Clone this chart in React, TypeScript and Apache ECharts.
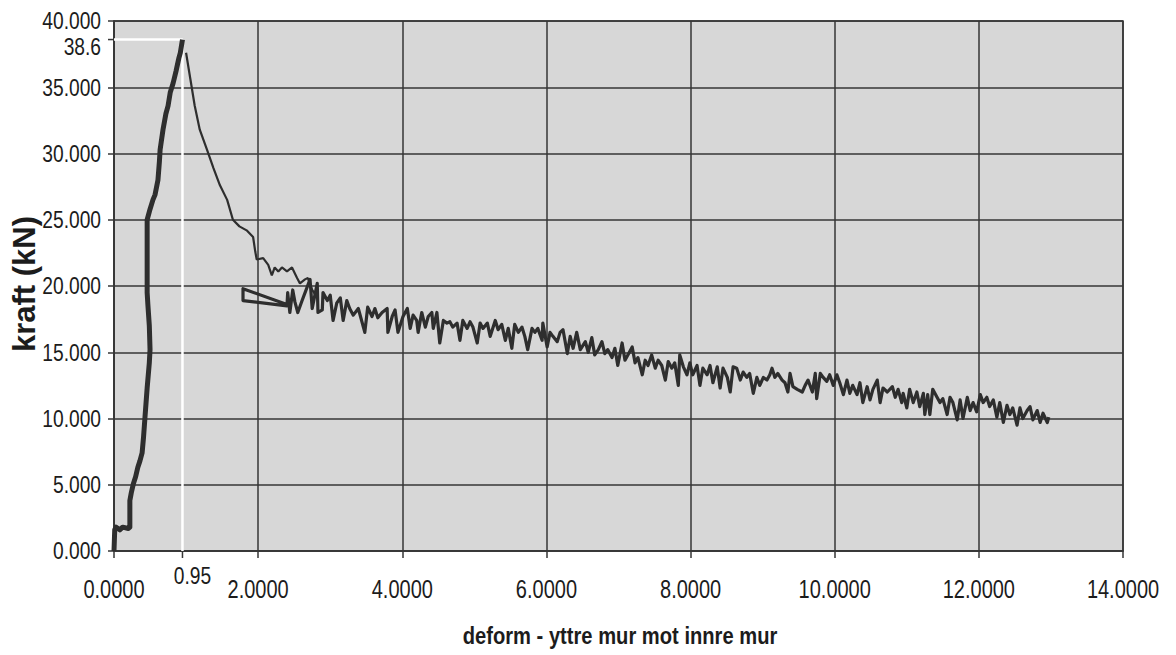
import { useEffect, useRef } from "react";
import * as echarts from "echarts";

// Peak of the test: deformation (mm) and force (kN)
const peakDeform = 0.95;
const peakForce = 38.6;

// Axis ticks
const xTicks = [0, 2, 4, 6, 8, 10, 12, 14];
const yTicks = [0, 5, 10, 15, 20, 25, 30, 35, 40];

// Loading branch up to the peak
const loading: [number, number][] = [
  [0.0, 0.0], [0.01, 1.6], [0.03, 1.8], [0.08, 1.6], [0.12, 1.8], [0.2, 1.7],
  [0.22, 1.8], [0.22, 3.8], [0.24, 4.4], [0.27, 5.1], [0.3, 5.6], [0.33, 6.3],
  [0.36, 6.8], [0.39, 7.4], [0.41, 8.6], [0.43, 10.1], [0.46, 12.3], [0.49, 14.2],
  [0.5, 15.2], [0.49, 17.0], [0.47, 18.6], [0.46, 19.5], [0.46, 21.5], [0.46, 23.5],
  [0.46, 25.0], [0.5, 25.8], [0.54, 26.5], [0.57, 26.9], [0.61, 28.0], [0.63, 29.4],
  [0.64, 30.3], [0.68, 31.8], [0.72, 33.0], [0.75, 33.6], [0.78, 34.6], [0.82, 35.3],
  [0.86, 36.2], [0.9, 37.2], [0.92, 37.6], [0.95, 38.6],
];

// Softening branch after the peak
const softening: [number, number][] = [
  [1.0, 37.6], [1.06, 35.6], [1.12, 33.6], [1.19, 31.8], [1.29, 30.3], [1.38, 28.9],
  [1.47, 27.6], [1.57, 26.5], [1.65, 25.0], [1.74, 24.5], [1.84, 24.2], [1.93, 23.7],
  [1.96, 22.6], [1.98, 22.0], [2.07, 22.1], [2.14, 21.6], [2.19, 20.8], [2.23, 21.4],
  [2.28, 21.1], [2.33, 21.4], [2.4, 21.1], [2.47, 21.4], [2.54, 20.6], [2.58, 20.2],
  [2.65, 20.5], [2.69, 20.6], [2.75, 19.7], [2.8, 19.3],
];

// Residual capacity, noisy plateau decreasing towards the end of the test
const residual: [number, number][] = [
  [2.4, 18.6], [1.79, 19.8], [1.79, 18.9], [2.4, 18.5],
  [2.41, 19.5], [2.44, 18.0], [2.48, 19.7], [2.51, 18.8], [2.55, 18.0], [2.61, 18.9],
  [2.72, 20.5], [2.75, 18.3], [2.82, 20.2], [2.83, 18.0], [2.89, 18.2], [2.9, 19.5],
  [2.96, 18.9], [3.0, 19.3], [3.04, 17.4], [3.09, 18.7], [3.14, 19.1], [3.18, 17.4],
  [3.23, 18.9], [3.27, 18.3], [3.32, 17.8], [3.39, 18.3], [3.48, 16.5], [3.52, 18.4],
  [3.58, 17.7], [3.62, 18.3], [3.66, 17.6], [3.72, 18.0], [3.79, 18.3], [3.8, 16.5],
  [3.86, 17.7], [3.9, 18.2], [3.94, 16.5], [4.01, 17.7], [4.07, 18.3], [4.11, 16.8],
  [4.15, 17.8], [4.2, 17.4], [4.22, 16.5], [4.27, 18.0], [4.32, 16.9], [4.36, 17.7],
  [4.41, 18.0], [4.43, 16.8], [4.48, 18.0], [4.52, 15.7], [4.57, 17.4], [4.62, 17.2],
  [4.66, 17.3], [4.7, 16.9], [4.76, 17.2], [4.8, 15.9], [4.84, 17.4], [4.9, 16.8],
  [4.94, 17.3], [4.98, 16.9], [5.04, 15.7], [5.08, 17.2], [5.12, 16.8], [5.18, 17.2],
  [5.22, 16.2], [5.29, 17.4], [5.33, 16.7], [5.38, 17.1], [5.43, 15.9], [5.47, 16.8],
  [5.52, 15.3], [5.56, 17.1], [5.61, 16.5], [5.66, 16.9], [5.7, 16.2], [5.74, 15.2],
  [5.8, 16.8], [5.84, 16.5], [5.88, 16.8], [5.94, 15.9], [5.95, 17.2], [6.01, 15.4],
  [6.05, 16.5], [6.09, 16.2], [6.15, 15.8], [6.19, 16.5], [6.23, 16.7], [6.29, 14.9],
  [6.33, 16.2], [6.37, 15.3], [6.42, 16.5], [6.47, 15.2], [6.54, 15.8], [6.58, 15.0],
  [6.63, 16.1], [6.67, 14.8], [6.72, 15.2], [6.77, 15.8], [6.81, 14.9], [6.85, 15.2],
  [6.91, 14.6], [6.95, 15.3], [6.99, 14.0], [7.05, 15.7], [7.09, 14.4], [7.13, 14.8],
  [7.19, 15.4], [7.23, 14.2], [7.27, 14.6], [7.33, 13.3], [7.37, 14.4], [7.41, 14.0],
  [7.46, 14.8], [7.51, 13.8], [7.55, 14.4], [7.6, 14.0], [7.65, 12.9], [7.69, 14.3],
  [7.74, 13.8], [7.78, 14.2], [7.83, 12.5], [7.85, 14.8], [7.9, 13.9], [7.95, 13.3],
  [7.99, 14.2], [8.03, 13.3], [8.09, 14.0], [8.13, 12.5], [8.17, 13.8], [8.23, 13.3],
  [8.27, 14.0], [8.31, 12.7], [8.37, 13.9], [8.41, 12.3], [8.45, 13.8], [8.51, 13.1],
  [8.55, 12.0], [8.59, 13.9], [8.64, 13.8], [8.69, 12.9], [8.73, 13.5], [8.78, 13.1],
  [8.82, 13.4], [8.87, 11.9], [8.92, 13.1], [8.96, 12.5], [9.01, 13.1], [9.06, 12.9],
  [9.1, 13.3], [9.13, 13.8], [9.17, 13.1], [9.21, 13.4], [9.27, 12.9], [9.31, 12.7],
  [9.35, 12.0], [9.38, 13.4], [9.42, 12.4], [9.48, 12.2], [9.55, 12.0], [9.59, 12.5],
  [9.63, 12.9], [9.69, 12.0], [9.73, 13.4], [9.75, 11.5], [9.8, 13.4], [9.84, 13.1],
  [9.89, 12.8], [9.93, 13.3], [9.98, 12.5], [10.03, 13.3], [10.07, 12.7], [10.12, 11.8],
  [10.17, 12.9], [10.21, 11.9], [10.25, 12.5], [10.31, 11.8], [10.35, 12.7], [10.39, 11.2],
  [10.45, 12.4], [10.49, 11.4], [10.53, 12.2], [10.59, 12.9], [10.63, 11.2], [10.67, 12.3],
  [10.73, 12.0], [10.8, 12.4], [10.84, 11.6], [10.88, 12.2], [10.93, 11.2], [10.95, 11.9],
  [11.0, 10.8], [11.04, 12.2], [11.09, 11.2], [11.14, 12.0], [11.18, 10.9], [11.23, 11.9],
  [11.25, 10.3], [11.29, 11.8], [11.32, 10.3], [11.36, 12.2], [11.42, 11.6], [11.46, 11.2],
  [11.5, 11.5], [11.56, 10.3], [11.6, 11.6], [11.64, 11.2], [11.7, 9.9], [11.74, 11.4],
  [11.78, 10.0], [11.84, 11.6], [11.88, 10.6], [11.92, 11.2], [11.97, 10.5], [12.02, 11.8],
  [12.06, 11.2], [12.11, 11.6], [12.15, 10.9], [12.2, 11.4], [12.25, 10.1], [12.29, 11.2],
  [12.34, 9.7], [12.39, 11.0], [12.43, 10.3], [12.47, 10.8], [12.53, 9.5], [12.57, 10.8],
  [12.61, 10.0], [12.67, 10.6], [12.71, 10.9], [12.75, 9.9], [12.81, 10.6], [12.85, 9.7],
  [12.89, 10.4], [12.95, 9.7], [12.97, 10.1],
];

const FONT = "'Liberation Sans', Arial, sans-serif";
const INK = "#1c1c1c";
const GRID = "#363636";
const LINE = "#2e2e2e";
// Condensed lettering, as in the printed report
const SQUEEZE = 0.8;

export default function App() {
  const ref = useRef<HTMLDivElement>(null);

  useEffect(() => {
    if (!ref.current) return;
    const chart = echarts.init(ref.current, null, { renderer: "svg" });

    chart.setOption({
      animation: false,
      backgroundColor: "#ffffff",
      grid: {
        left: 114,
        right: 53,
        top: 21,
        bottom: 104,
        show: true,
        backgroundColor: "#d7d7d7",
        borderColor: GRID,
        borderWidth: 1.5,
      },
      xAxis: {
        type: "value",
        min: xTicks[0],
        max: xTicks[xTicks.length - 1],
        interval: xTicks[1] - xTicks[0],
        axisLine: { show: true, lineStyle: { color: GRID, width: 1.5 } },
        axisTick: { show: true, length: 7, lineStyle: { color: GRID, width: 1.5 } },
        splitLine: { show: true, lineStyle: { color: GRID, width: 1.5 } },
        axisLabel: { show: false },
      },
      yAxis: {
        type: "value",
        min: yTicks[0],
        max: yTicks[yTicks.length - 1],
        interval: yTicks[1] - yTicks[0],
        axisLine: { show: true, lineStyle: { color: GRID, width: 1.5 } },
        axisTick: { show: true, length: 6, lineStyle: { color: GRID, width: 1.5 } },
        splitLine: { show: true, lineStyle: { color: GRID, width: 1.5 } },
        axisLabel: { show: false },
      },
      series: [
        {
          name: "peak guide",
          type: "line",
          data: [[0, peakForce], [peakDeform, peakForce], [peakDeform, 0]],
          showSymbol: false,
          lineStyle: { color: "#ffffff", width: 2.5 },
          z: 1,
        },
        {
          name: "loading",
          type: "line",
          data: loading,
          showSymbol: false,
          lineStyle: { color: LINE, width: 5, join: "round" },
          z: 3,
        },
        {
          name: "softening",
          type: "line",
          data: softening,
          showSymbol: false,
          lineStyle: { color: LINE, width: 2.2 },
          z: 3,
        },
        {
          name: "residual",
          type: "line",
          data: residual,
          showSymbol: false,
          lineStyle: { color: LINE, width: 3.2, join: "round" },
          z: 3,
        },
      ],
    });

    const toPx = (x: number, y: number) =>
      chart.convertToPixel({ gridIndex: 0 }, [x, y]) as number[];
    const origin = toPx(0, 0);
    const px = toPx(peakDeform, 0);
    const py = toPx(0, peakForce);

    const label = (text: string, x: number, y: number, size: number, align: string) => ({
      type: "text",
      x,
      y,
      scaleX: SQUEEZE,
      silent: true,
      style: {
        text,
        font: `${size}px ${FONT}`,
        fill: INK,
        align,
        verticalAlign: "middle",
      },
    });

    const xLabels = xTicks.map((v) => {
      const p = toPx(v, 0);
      return label(v.toFixed(4), p[0], p[1] + 39, 25, "center");
    });
    const yLabels = yTicks.map((v) => {
      const p = toPx(0, v);
      return label(v.toFixed(3), p[0] - 13, p[1], 24, "right");
    });

    chart.setOption({
      graphic: [
        ...xLabels,
        ...yLabels,
        {
          type: "line",
          shape: { x1: px[0], y1: origin[1], x2: px[0], y2: origin[1] + 7 },
          style: { stroke: GRID, lineWidth: 1.5 },
        },
        label("0.95", px[0] + 10, origin[1] + 25, 24, "center"),
        {
          type: "line",
          shape: { x1: origin[0] - 6, y1: py[1], x2: origin[0], y2: py[1] },
          style: { stroke: GRID, lineWidth: 1.5 },
        },
        label("38.6", origin[0] - 13, py[1] + 7, 24, "right"),
        {
          type: "text",
          x: 24,
          y: 284,
          rotation: Math.PI / 2,
          silent: true,
          style: {
            text: "kraft (kN)",
            font: `bold 31px ${FONT}`,
            fill: INK,
            align: "center",
            verticalAlign: "middle",
          },
        },
        {
          type: "text",
          x: 620,
          y: 636,
          scaleX: 0.84,
          silent: true,
          style: {
            text: "deform - yttre mur mot innre mur",
            font: `bold 24px ${FONT}`,
            fill: INK,
            align: "center",
            verticalAlign: "middle",
          },
        },
      ],
    });

    return () => chart.dispose();
  }, []);

  return (
    <div
      ref={ref}
      style={{ position: "fixed", left: 0, top: 0, width: 1176, height: 655 }}
    />
  );
}
